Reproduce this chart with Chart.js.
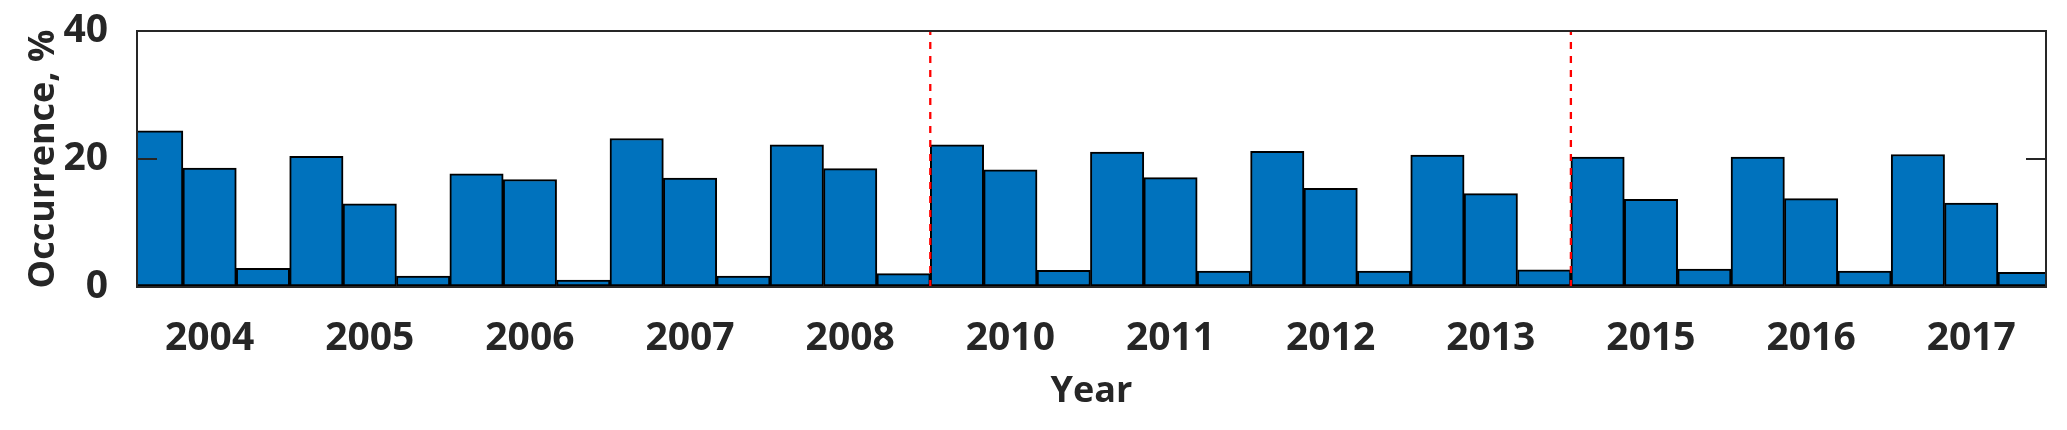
<!DOCTYPE html>
<html>
<head>
<meta charset="utf-8">
<script src="https://cdn.jsdelivr.net/npm/chart.js@4.4.1/dist/chart.umd.min.js"></script>
<style>
  html, body { margin: 0; padding: 0; background: #ffffff; }
  #wrap { width: 2067px; height: 430px; position: relative; }
</style>
</head>
<body>
<div id="wrap"><canvas id="c" width="2067" height="430"></canvas></div>
<script>
// Year groups (label under the middle bar of each group of three)
const years = ['2004','2005','2006','2007','2008','2010','2011','2012','2013','2015','2016','2017'];
// Occurrence (%) of the first, second and third bar in each year group
const bin1 = [24.4, 20.4, 17.7, 23.2, 22.2, 22.2, 21.1, 21.2, 20.6, 20.3, 20.3, 20.7];
const bin2 = [18.6, 13.0, 16.8, 17.0, 18.5, 18.3, 17.1, 15.4, 14.6, 13.7, 13.8, 13.1];
const bin3 = [2.9, 1.7, 1.1, 1.7, 2.1, 2.6, 2.5, 2.5, 2.7, 2.8, 2.5, 2.3];
// Separator positions, in bar units (boundary after bar N)
const separators = [15, 27];
// Y-axis tick values
const yTicks = [0, 20, 40];

const barData = [];
years.forEach((y, i) => {
  [bin1[i], bin2[i], bin3[i]].forEach((v, k) => {
    barData.push({ x: i * 3 + k + 0.5, y: v });
  });
});

const textColor = '#262626';
const axisColor = '#262626';
const fontFamily = '"Open Sans", "DejaVu Sans", sans-serif';
const X_MIN = 0.14, X_MAX = 35.9;

const sepDatasets = separators.map(s => ({
  type: 'line',
  data: [{ x: s, y: 0 }, { x: s, y: 40 }],
  borderColor: '#ff0000',
  borderWidth: 2.3,
  borderDash: [7, 7],
  pointRadius: 0,
  fill: false,
  order: 0
}));

const noPad = (scale) => {
  scale.paddingTop = 0; scale.paddingBottom = 0;
  scale.paddingLeft = 0; scale.paddingRight = 0;
};

new Chart(document.getElementById('c'), {
  type: 'bar',
  data: {
    datasets: [{
      type: 'bar',
      data: barData,
      backgroundColor: '#0072BD',
      borderColor: '#000000',
      borderWidth: 2,
      borderSkipped: false,
      barPercentage: 1,
      categoryPercentage: 1,
      clip: { left: 0, right: 0, top: 5, bottom: 0 },
      order: 1
    }, ...sepDatasets]
  },
  options: {
    responsive: false,
    animation: false,
    devicePixelRatio: 1,
    layout: { padding: 0 },
    plugins: { legend: { display: false }, tooltip: { enabled: false } },
    scales: {
      x: {
        type: 'linear',
        position: 'bottom',
        offset: false,
        min: X_MIN,
        max: X_MAX,
        afterBuildTicks: (scale) => {
          scale.ticks = years.map((y, i) => ({ value: i * 3 + 1.5 }));
        },
        afterFit: (scale) => { scale.height = 143; noPad(scale); },
        ticks: {
          autoSkip: false,
          maxRotation: 0,
          padding: 28,
          color: textColor,
          font: { family: fontFamily, size: 39, weight: 'bold' },
          callback: (value, index) => years[index]
        },
        grid: { display: true, offset: false, drawOnChartArea: false, drawTicks: false, z: 1 },
        border: { display: true, color: axisColor, width: 2, z: 1 },
        title: {
          display: true,
          text: 'Year',
          color: textColor,
          font: { family: fontFamily, size: 36, weight: 'bold' },
          padding: { top: 0, bottom: 17 }
        }
      },
      x2: {
        type: 'linear',
        position: 'top',
        offset: false,
        min: X_MIN,
        max: X_MAX,
        afterFit: (scale) => { scale.height = 31; noPad(scale); },
        ticks: { display: false },
        grid: { display: false, offset: false },
        border: { display: true, color: axisColor, width: 2, z: 1 }
      },
      y: {
        type: 'linear',
        position: 'left',
        min: 0,
        max: 40,
        afterBuildTicks: (scale) => {
          scale.ticks = yTicks.map(v => ({ value: v }));
        },
        afterFit: (scale) => { scale.width = 137; noPad(scale); },
        ticks: {
          padding: 49,
          color: textColor,
          font: { family: fontFamily, size: 39, weight: 'bold' }
        },
        grid: {
          display: true,
          drawOnChartArea: false,
          drawTicks: true,
          tickLength: -20,
          color: axisColor,
          lineWidth: 2,
          z: 1
        },
        border: { display: true, color: axisColor, width: 2, z: 1 },
        title: {
          display: true,
          text: 'Occurrence, %',
          color: textColor,
          font: { family: fontFamily, size: 36, weight: 'bold' },
          padding: { top: 22, bottom: 0 }
        }
      },
      y2: {
        type: 'linear',
        position: 'right',
        min: 0,
        max: 40,
        afterBuildTicks: (scale) => {
          scale.ticks = yTicks.map(v => ({ value: v }));
        },
        afterFit: (scale) => { scale.width = 21; noPad(scale); },
        ticks: { display: false },
        grid: {
          display: true,
          drawOnChartArea: false,
          drawTicks: true,
          tickLength: -20,
          color: axisColor,
          lineWidth: 2,
          z: 1
        },
        border: { display: true, color: axisColor, width: 2, z: 1 }
      }
    }
  }
});
</script>
</body>
</html>
